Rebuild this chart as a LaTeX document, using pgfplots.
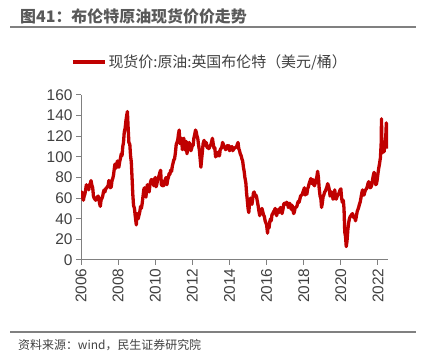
\documentclass[border=0pt]{standalone}
\usepackage{pgfplots}
\pgfplotsset{compat=1.18}
\usepackage{fontspec}
\setmainfont{Liberation Sans}
\newfontfamily\cjk{Noto Sans CJK SC}
\definecolor{brent}{HTML}{C00000}
\definecolor{axgray}{HTML}{808080}
\definecolor{txtgray}{HTML}{404040}
\definecolor{titlegray}{HTML}{595959}
\begin{document}
\begin{tikzpicture}[x=1bp,y=1bp]
\path[use as bounding box] (0,0) rectangle (425,364);
\begin{axis}[
  at={(81bp,104bp)}, anchor=south west,
  scale only axis, width=307bp, height=165bp,
  xmin=2006, xmax=2022.54, ymin=0, ymax=160,
  axis x line*=bottom, axis y line*=left,
  axis line style={axgray, line width=1bp, -},
  tick style={axgray, line width=1bp},
  major tick length=5bp, tick align=outside,
  xtick={2006,2008,2010,2012,2014,2016,2018,2020,2022},
  ytick={0,20,40,60,80,100,120,140,160},
  /pgf/number format/1000 sep={},
  /pgf/number format/assume math mode=true,
  x tick label style={rotate=90, anchor=east, font=\fontsize{15.5}{18}\selectfont, text=txtgray},
  y tick label style={font=\fontsize{15.5}{18}\selectfont, text=txtgray},
  legend style={at={(0.42,1.2)}, anchor=center, draw=none, fill=none,
    font=\cjk\fontsize{15}{18}\selectfont, text=txtgray},
  legend image code/.code={\draw[#1, line width=3.5bp] (0bp,0bp) -- (32bp,0bp);},
]
\addplot[brent, line width=3.3bp, line join=round] coordinates {
(2006.00,61) (2006.04,66) (2006.08,61) (2006.13,58) (2006.17,62) (2006.21,64) (2006.25,68) (2006.29,73) (2006.33,70) (2006.38,71) (2006.42,68) (2006.46,73) (2006.50,74) (2006.54,77) (2006.58,73) (2006.63,70) (2006.67,62) (2006.71,60) (2006.75,59) (2006.79,58) (2006.83,59) (2006.88,61) (2006.92,62) (2006.96,60)
(2007.00,55) (2007.04,52) (2007.08,58) (2007.13,60) (2007.17,62) (2007.21,66) (2007.25,68) (2007.29,66) (2007.33,69) (2007.38,70) (2007.42,71) (2007.46,72) (2007.50,77) (2007.54,76) (2007.58,70) (2007.63,71) (2007.67,77) (2007.71,79) (2007.75,82) (2007.79,88) (2007.83,93) (2007.88,89) (2007.92,92) (2007.96,96)
(2008.00,92) (2008.04,90) (2008.08,95) (2008.13,99) (2008.17,103) (2008.21,101) (2008.25,110) (2008.29,114) (2008.33,124) (2008.38,128) (2008.42,135) (2008.46,140) (2008.50,144) (2008.54,128) (2008.58,114) (2008.63,112) (2008.67,101) (2008.71,95) (2008.75,80) (2008.79,64) (2008.83,53) (2008.88,50) (2008.92,43) (2008.98,34)
(2009.02,45) (2009.04,42) (2009.08,40) (2009.13,44) (2009.17,47) (2009.21,52) (2009.25,50) (2009.29,54) (2009.33,60) (2009.38,68) (2009.42,70) (2009.46,66) (2009.50,61) (2009.54,70) (2009.58,73) (2009.63,71) (2009.67,66) (2009.71,72) (2009.75,76) (2009.79,78) (2009.83,77) (2009.88,78) (2009.92,72) (2009.96,78)
(2010.00,80) (2010.04,71) (2010.08,73) (2010.13,78) (2010.17,80) (2010.21,82) (2010.25,85) (2010.29,87) (2010.33,73) (2010.38,72) (2010.42,76) (2010.46,72) (2010.50,76) (2010.54,78) (2010.58,80) (2010.63,73) (2010.67,78) (2010.71,80) (2010.75,84) (2010.79,83) (2010.83,87) (2010.88,86) (2010.92,91) (2010.96,94)
(2011.00,97) (2011.04,98) (2011.08,103) (2011.13,112) (2011.17,114) (2011.21,116) (2011.25,122) (2011.29,126) (2011.33,113) (2011.38,114) (2011.42,118) (2011.46,107) (2011.50,117) (2011.54,118) (2011.58,107) (2011.63,112) (2011.67,115) (2011.71,103) (2011.75,110) (2011.79,112) (2011.83,114) (2011.88,108) (2011.92,106) (2011.96,108)
(2012.00,112) (2012.04,111) (2012.08,118) (2012.13,122) (2012.17,126) (2012.21,124) (2012.25,120) (2012.29,118) (2012.33,112) (2012.38,106) (2012.42,98) (2012.46,90) (2012.50,98) (2012.54,105) (2012.58,113) (2012.63,116) (2012.67,113) (2012.71,111) (2012.75,114) (2012.79,109) (2012.83,110) (2012.88,108) (2012.92,109) (2012.96,111)
(2013.00,112) (2013.04,115) (2013.08,118) (2013.13,112) (2013.17,108) (2013.21,109) (2013.25,100) (2013.29,102) (2013.33,104) (2013.38,101) (2013.42,105) (2013.46,101) (2013.50,107) (2013.54,108) (2013.58,109) (2013.63,114) (2013.67,112) (2013.71,109) (2013.75,109) (2013.79,107) (2013.83,108) (2013.88,111) (2013.92,110) (2013.96,111)
(2014.00,106) (2014.04,107) (2014.08,109) (2014.13,110) (2014.17,106) (2014.21,107) (2014.25,108) (2014.29,109) (2014.33,109) (2014.38,110) (2014.42,112) (2014.46,114) (2014.50,108) (2014.54,106) (2014.58,103) (2014.63,101) (2014.67,98) (2014.71,96) (2014.75,90) (2014.79,86) (2014.83,80) (2014.88,75) (2014.92,65) (2014.96,58)
(2015.00,50) (2015.04,46) (2015.08,55) (2015.13,60) (2015.17,56) (2015.21,54) (2015.25,59) (2015.29,65) (2015.33,66) (2015.38,62) (2015.42,63) (2015.46,61) (2015.50,57) (2015.54,53) (2015.58,48) (2015.63,43) (2015.67,48) (2015.71,47) (2015.75,50) (2015.79,47) (2015.83,44) (2015.88,42) (2015.92,38) (2015.96,36)
(2016.00,34) (2016.05,26) (2016.08,33) (2016.13,31) (2016.17,37) (2016.21,40) (2016.25,38) (2016.29,44) (2016.33,45) (2016.38,47) (2016.42,48) (2016.46,50) (2016.50,45) (2016.54,43) (2016.58,47) (2016.63,49) (2016.67,46) (2016.71,49) (2016.75,51) (2016.79,48) (2016.83,45) (2016.88,49) (2016.92,54) (2016.96,55)
(2017.00,55) (2017.04,54) (2017.08,56) (2017.13,55) (2017.17,51) (2017.21,52) (2017.25,55) (2017.29,52) (2017.33,49) (2017.38,53) (2017.42,48) (2017.46,45) (2017.50,47) (2017.54,51) (2017.58,51) (2017.63,52) (2017.67,55) (2017.71,57) (2017.75,56) (2017.79,59) (2017.83,62) (2017.88,63) (2017.92,63) (2017.96,66)
(2018.00,68) (2018.04,70) (2018.08,63) (2018.13,65) (2018.17,64) (2018.21,69) (2018.25,71) (2018.29,74) (2018.33,76) (2018.38,79) (2018.42,75) (2018.46,74) (2018.50,78) (2018.54,73) (2018.58,72) (2018.63,75) (2018.67,78) (2018.71,81) (2018.75,86) (2018.79,80) (2018.83,70) (2018.88,62) (2018.92,60) (2018.96,51)
(2019.00,55) (2019.04,61) (2019.08,63) (2019.13,66) (2019.17,67) (2019.21,69) (2019.25,71) (2019.29,74) (2019.33,72) (2019.38,68) (2019.42,62) (2019.46,64) (2019.50,66) (2019.54,63) (2019.58,59) (2019.63,60) (2019.67,68) (2019.71,62) (2019.75,59) (2019.79,61) (2019.83,63) (2019.88,64) (2019.92,66) (2019.96,68)
(2020.00,69) (2020.04,60) (2020.08,56) (2020.13,58) (2020.17,50) (2020.21,27) (2020.25,23) (2020.29,13) (2020.33,18) (2020.38,30) (2020.42,36) (2020.46,40) (2020.50,42) (2020.54,43) (2020.58,44) (2020.63,45) (2020.67,42) (2020.71,41) (2020.75,41) (2020.79,38) (2020.83,42) (2020.88,47) (2020.92,49) (2020.96,51)
(2021.00,54) (2021.04,56) (2021.08,60) (2021.13,65) (2021.17,68) (2021.21,63) (2021.25,63) (2021.29,66) (2021.33,68) (2021.38,69) (2021.42,71) (2021.46,74) (2021.50,76) (2021.54,72) (2021.58,70) (2021.63,71) (2021.67,73) (2021.71,78) (2021.75,82) (2021.79,85) (2021.83,82) (2021.88,73) (2021.92,74) (2021.96,78)
(2022.00,84) (2022.04,89) (2022.08,93) (2022.13,99) (2022.17,112) (2022.19,137) (2022.21,110) (2022.25,104) (2022.29,108) (2022.33,105) (2022.38,112) (2022.42,120) (2022.45,133) (2022.48,118) (2022.51,125) (2022.54,108)
};
\addlegendentry{现货价:原油:英国布伦特（美元/桶）}
\end{axis}
\draw[axgray, line width=1.5bp] (10,337) -- (416,337);
\draw[axgray, line width=1.5bp] (10,32) -- (416,32);
\node[anchor=west, inner sep=0pt, text=titlegray, font=\cjk\bfseries\fontsize{16}{19}\selectfont] at (20,348) {图41：布伦特原油现货价价走势};
\node[anchor=west, inner sep=0pt, text=txtgray, font=\cjk\fontsize{12}{14}\selectfont] at (18,19) {资料来源：wind，民生证券研究院};
\end{tikzpicture}
\end{document}
